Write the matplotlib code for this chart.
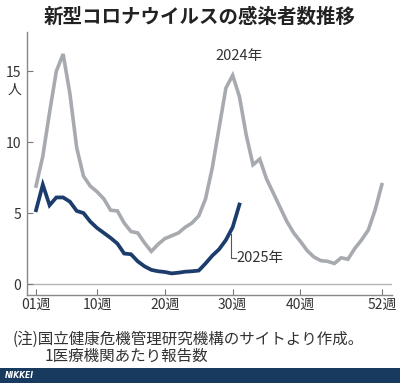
import matplotlib.pyplot as plt
from matplotlib.patches import Rectangle

plt.rcParams['font.family'] = ['Noto Sans CJK JP', 'DejaVu Sans']

# 1医療機関あたり報告数 (週ごと)
weeks_2024 = list(range(1, 53))
cases_2024 = [6.9, 9.0, 12.1, 15.0, 16.2, 13.4, 9.6, 7.6, 6.9, 6.5,
              6.0, 5.2, 5.15, 4.3, 3.7, 3.6, 2.9, 2.3, 2.8, 3.2,
              3.4, 3.6, 4.0, 4.3, 4.8, 6.0, 8.2, 11.0, 13.8, 14.7,
              13.2, 10.5, 8.4, 8.8, 7.4, 6.4, 5.4, 4.4, 3.6, 3.0,
              2.35, 1.9, 1.65, 1.6, 1.45, 1.85, 1.75, 2.5, 3.1, 3.8,
              5.2, 7.0]
weeks_2025 = list(range(1, 32))
cases_2025 = [5.2, 7.0, 5.55, 6.1, 6.1, 5.8, 5.15, 5.0, 4.4, 3.95,
              3.6, 3.25, 2.85, 2.15, 2.1, 1.6, 1.25, 1.0, 0.9, 0.85,
              0.75, 0.8, 0.87, 0.9, 0.95, 1.45, 2.0, 2.45, 3.1, 4.0,
              5.6]

tick_weeks = [1, 10, 20, 30, 40, 52]
tick_labels = ['01週', '10週', '20週', '30週', '40週', '52週']
y_ticks = [0, 5, 10, 15]

text_color = '#333333'
gray = '#a7abb0'
navy = '#1c3c6b'

fig = plt.figure(figsize=(4, 3.83), dpi=100)
ax = fig.add_axes([0.0675, 0.2298, 0.9125, 0.6866])

ax.axhline(0, color='#b5b5b5', lw=1.0, zorder=1)
ax.plot(weeks_2024, cases_2024, color=gray, lw=2.6, solid_joinstyle='miter', zorder=2)
ax.plot(weeks_2025, cases_2025, color=navy, lw=2.7, solid_joinstyle='miter', zorder=3)

ax.set_xlim(-0.33, 53.5)
ax.set_ylim(-0.77, 17.75)
ax.set_xticks(tick_weeks)
ax.set_xticklabels(tick_labels)
ax.set_yticks(y_ticks)
ax.tick_params(axis='both', direction='in', length=4, width=0.8, color='#777777',
               labelsize=10, labelcolor=text_color, pad=2)
ax.tick_params(axis='y', pad=4)
for side in ['top', 'right']:
    ax.spines[side].set_visible(False)
for side in ['left', 'bottom']:
    ax.spines[side].set_color('#888888')
    ax.spines[side].set_linewidth(1.0)

# 単位
ax.text(-2.1, 13.66, '人', ha='center', va='center',
        fontsize=10, color=text_color, clip_on=False)

# ラベル
ax.text(30.9, 15.55, '2024年', ha='center', va='bottom', fontsize=10.5, color=text_color)
ax.plot([29.8, 29.8, 30.5], [3.5, 1.8, 1.8], color='#555555', lw=0.8)
ax.text(30.6, 1.8, '2025年', ha='left', va='center', fontsize=10.5, color=text_color)

fig.text(0.5, 0.955, '新型コロナウイルスの感染者数推移', ha='center', va='center',
         fontsize=14, fontweight='bold', color='#222222')
fig.text(0.032, 1 - 339 / 383, '(注)国立健康危機管理研究機構のサイトより作成。',
         ha='left', va='center', fontsize=11.2, color=text_color)
fig.text(0.112, 1 - 356 / 383, '1医療機関あたり報告数',
         ha='left', va='center', fontsize=11.2, color=text_color)

fig.patches.append(Rectangle((0, 0), 1, 15 / 383, transform=fig.transFigure,
                             facecolor='#173a5e', edgecolor='none'))
fig.text(0.012, 7.5 / 383, 'NIKKEI', ha='left', va='center', fontsize=5.5,
         fontweight='bold', style='italic', color='white', family='DejaVu Sans')

fig.savefig('out.png', dpi=100)
